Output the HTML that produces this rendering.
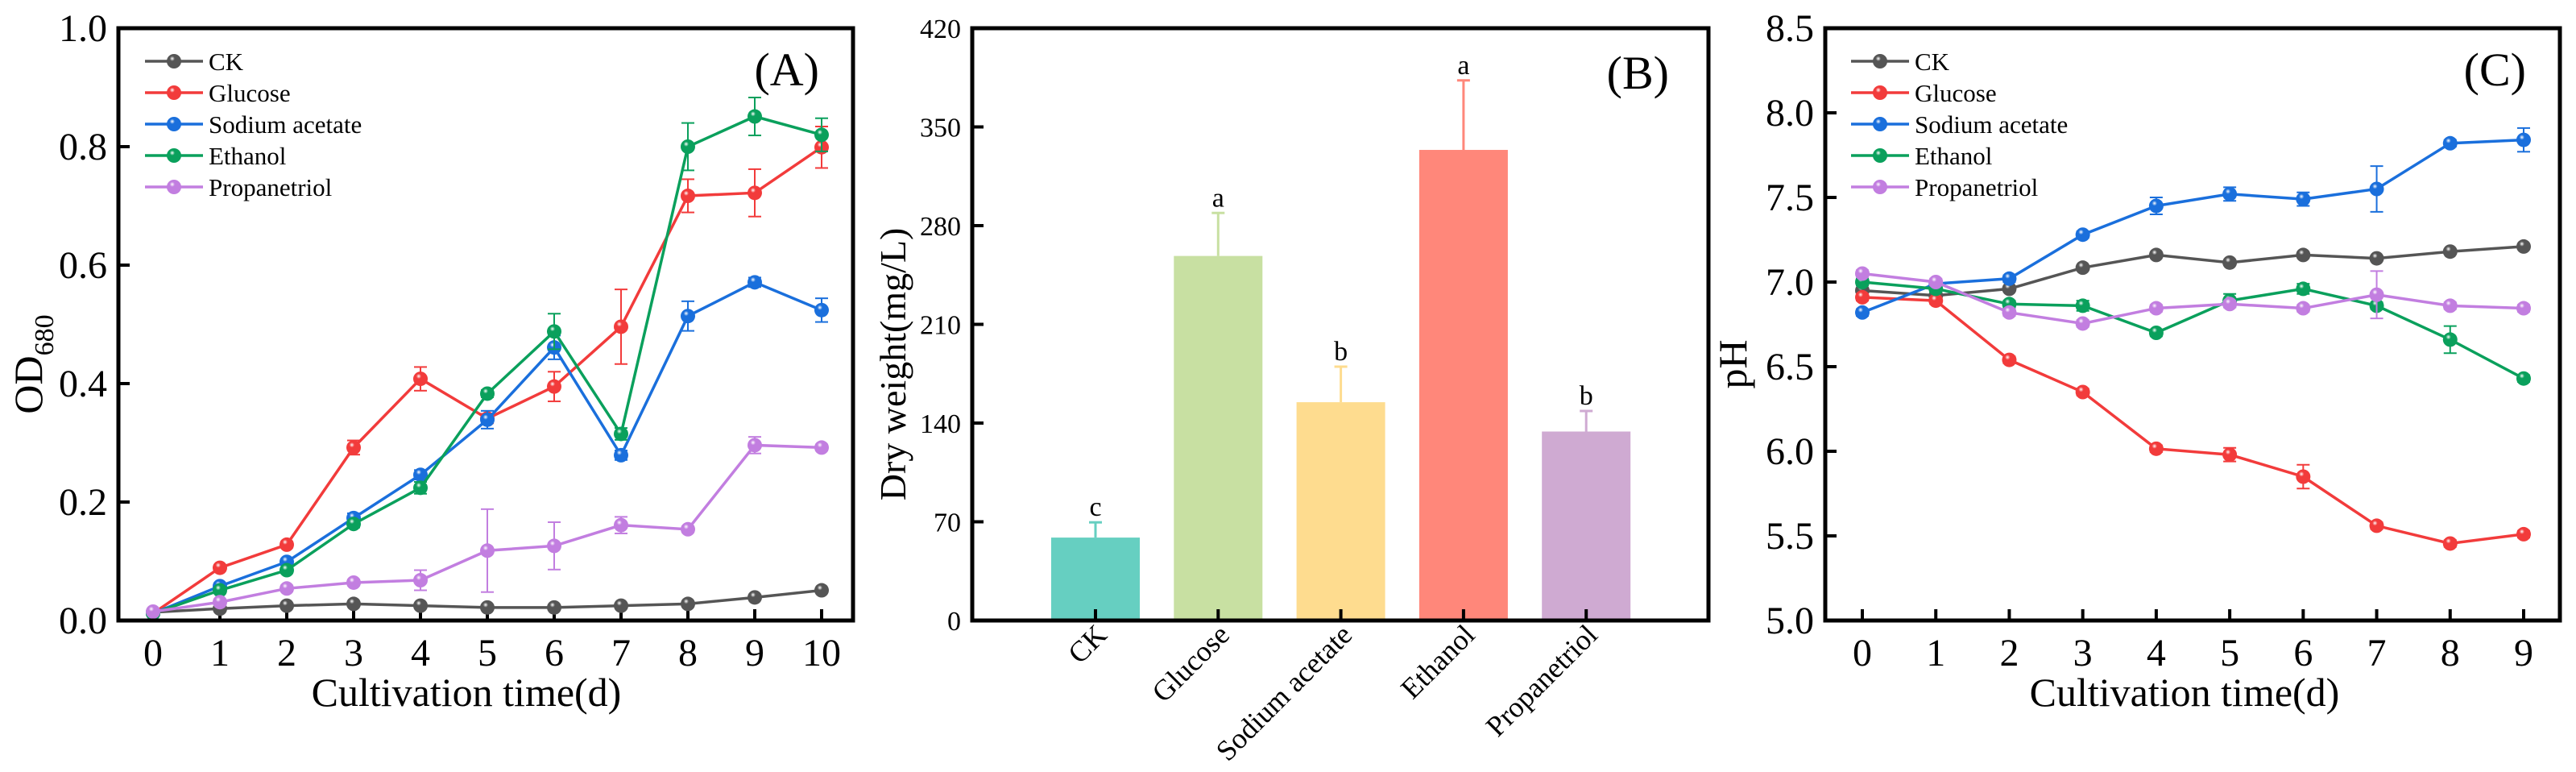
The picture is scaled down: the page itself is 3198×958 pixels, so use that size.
<!DOCTYPE html>
<html><head><meta charset="utf-8"><style>
html,body{margin:0;padding:0;background:#fff;}
svg{display:block;font-family:"Liberation Serif","Times New Roman",serif;}
</style></head><body>
<svg id="fig" width="3198" height="958" viewBox="0 0 3198 958" xmlns="http://www.w3.org/2000/svg"></svg>
<script>
// ---- Panel A data (OD680) ----
const daysA = [0,1,2,3,4,5,6,7,8,9,10];
const odCK    = [0.014,0.020,0.025,0.028,0.025,0.022,0.022,0.025,0.028,0.039,0.051];
const odGlu   = [0.012,0.089,0.128,0.292,0.408,0.341,0.395,0.496,0.717,0.722,0.799];
const odGluE  = [0,0.005,0.005,0.012,0.02,0.008,0.025,0.063,0.028,0.04,0.035];
const odSod   = [0.012,0.058,0.099,0.173,0.246,0.339,0.461,0.279,0.514,0.571,0.524];
const odSodE  = [0,0.005,0.005,0.008,0.008,0.015,0.02,0.008,0.025,0.008,0.02];
const odEth   = [0.012,0.051,0.085,0.163,0.224,0.383,0.488,0.315,0.800,0.851,0.820];
const odEthE  = [0,0.005,0.005,0.006,0.01,0.006,0.03,0.01,0.04,0.032,0.028];
const odPro   = [0.015,0.031,0.054,0.064,0.068,0.118,0.126,0.161,0.154,0.296,0.292];
const odProE  = [0,0.005,0.005,0.005,0.017,0.07,0.04,0.014,0.005,0.014,0.005];
const odTicks = ["0.0","0.2","0.4","0.6","0.8","1.0"];
// ---- Panel B data (dry weight) ----
const bCats = ["CK","Glucose","Sodium acetate","Ethanol","Propanetriol"];
const bVals = [58.8,258.5,154.8,333.7,134];
const bErr  = [10.8,30.5,25.2,49.3,14.6];
const bSig  = ["c","a","b","a","b"];
const bTicks = [0,70,140,210,280,350,420];
// ---- Panel C data (pH) ----
const daysC = [0,1,2,3,4,5,6,7,8,9];
const phCK  = [6.95,6.92,6.96,7.085,7.16,7.115,7.16,7.14,7.18,7.21];
const phGlu = [6.91,6.89,6.54,6.35,6.015,5.98,5.85,5.56,5.455,5.51];
const phGluE= [0.02,0.02,0.02,0.02,0.02,0.04,0.07,0.02,0.02,0.02];
const phSod = [6.82,6.99,7.02,7.28,7.45,7.52,7.49,7.55,7.82,7.84];
const phSodE= [0.02,0.02,0.02,0.02,0.05,0.04,0.04,0.135,0.02,0.07];
const phEth = [7.0,6.96,6.87,6.86,6.70,6.89,6.96,6.86,6.66,6.43];
const phEthE= [0.02,0.02,0.02,0.03,0.02,0.04,0.03,0.02,0.08,0.02];
const phPro = [7.05,7.0,6.82,6.755,6.845,6.87,6.845,6.925,6.86,6.845];
const phProE= [0.02,0.02,0.02,0.02,0.02,0.02,0.02,0.14,0.02,0.02];
const phTicks = ["5.0","5.5","6.0","6.5","7.0","7.5","8.0","8.5"];

const NS="http://www.w3.org/2000/svg";
const svg=document.getElementById('fig');
function el(tag,attrs,parent,txt){const e=document.createElementNS(NS,tag);for(const k in attrs)e.setAttribute(k,attrs[k]);if(txt!==undefined)e.textContent=txt;(parent||svg).appendChild(e);return e;}

const colors={CK:"#555555",Glucose:"#f23b3b",Sodium:"#1a6fdc",Ethanol:"#0aa05c",Pro:"#c27ee0"};
const defs=el('defs',{});
for(const k in colors){
  const g=el('radialGradient',{id:'g'+k,cx:'0.38',cy:'0.32',r:'0.7'},defs);
  el('stop',{offset:'0','stop-color':'#ffffff'},g);
  el('stop',{offset:'0.25','stop-color':colors[k]},g);
  el('stop',{offset:'1','stop-color':colors[k]},g);
}

function frame(g,x1,y1,x2,y2,name){
  const r=el('rect',{x:x1,y:y1,width:x2-x1,height:y2-y1,fill:'none',stroke:'#000','stroke-width':5},g);
  
  
}

function linePanel(P){
  const g=el('g',{});
  
  
  const sx=v=>P.x0+(v-P.xmin)/(P.xmax-P.xmin)*(P.x1-P.x0);
  const sy=v=>P.bot-(v-P.ymin)/(P.ymax-P.ymin)*(P.bot-P.top);
  P.days.forEach(d=>{
    const t=el('line',{x1:sx(d),x2:sx(d),y1:P.bot,y2:P.bot-14,stroke:'#000','stroke-width':4},g);
    
    
    const l=el('text',{x:sx(d),y:826,'font-size':48,'text-anchor':'middle'},g,String(d));
    
    
  });
  P.yticks.forEach(s=>{
    const v=parseFloat(s),y=sy(v);
    const t=el('line',{x1:P.fl,x2:P.fl+14,y1:y,y2:y,stroke:'#000','stroke-width':4},g);
    
    
    const l=el('text',{x:P.fl-14,y:y+16,'font-size':48,'text-anchor':'end'},g,s);
    
    
  });
  P.series.forEach(S=>{
    const sg=el('g',{},g);
    
    
    const c=colors[S.key];
    if(S.err){
      S.vals.forEach((v,i)=>{
        const e=S.err[i];if(!e)return;
        const x=sx(P.days[i]),ya=sy(v+e),yb=sy(v-e);
        el('line',{x1:x,x2:x,y1:ya,y2:yb,stroke:c,'stroke-width':2},sg);
        el('line',{x1:x-8,x2:x+8,y1:ya,y2:ya,stroke:c,'stroke-width':2},sg);
        el('line',{x1:x-8,x2:x+8,y1:yb,y2:yb,stroke:c,'stroke-width':2},sg);
      });
    }
    const pts=S.vals.map((v,i)=>sx(P.days[i])+','+sy(v)).join(' ');
    const pl=el('polyline',{points:pts,fill:'none',stroke:c,'stroke-width':3.5},sg);
    
    
    S.vals.forEach((v,i)=>{
      const m=el('circle',{cx:sx(P.days[i]),cy:sy(v),r:9,fill:'url(#g'+S.key+')'},sg);
      
      
    });
  });
  frame(g,P.fl,35,P.fr,P.bot,'plot-frame');
  const lg=el('g',{},g);
  
  
  P.series.forEach((S,i)=>{
    const y=76+i*39;
    const e=el('g',{},lg);
    
    
    el('line',{x1:P.lx,x2:P.lx+72,y1:y,y2:y,stroke:colors[S.key],'stroke-width':3.5},e);
    el('circle',{cx:P.lx+36,cy:y,r:9,fill:'url(#g'+S.key+')'},e);
    el('text',{x:P.lx+79,y:y+11,'font-size':31},e,S.label);
  });
  const pt=el('text',{x:P.fr-42,y:106,'font-size':58,'text-anchor':'end'},g,P.tag);
  
  
  const xt=el('text',{x:(P.fl+P.fr)/2+(P.xtOff||0),y:876,'font-size':50,'text-anchor':'middle'},g,'Cultivation time(d)');
  
  
  return g;
}

linePanel({name:'panel-a-od',tag:'(A)',days:daysA,xmin:0,xmax:10,x0:190,x1:1020,fl:147,fr:1059,top:35,bot:770,ymin:0,ymax:1,
  yticks:odTicks,lx:180,xtOff:-24,
  series:[{key:'CK',label:'CK',vals:odCK},{key:'Glucose',label:'Glucose',vals:odGlu,err:odGluE},
  {key:'Sodium',label:'Sodium acetate',vals:odSod,err:odSodE},{key:'Ethanol',label:'Ethanol',vals:odEth,err:odEthE},
  {key:'Pro',label:'Propanetriol',vals:odPro,err:odProE}]});
linePanel({name:'panel-c-ph',tag:'(C)',days:daysC,xmin:0,xmax:9,x0:2312,x1:3133,fl:2266,fr:3178,top:35,bot:770,ymin:5,ymax:8.5,
  yticks:phTicks,lx:2298,xtOff:-10,
  series:[{key:'CK',label:'CK',vals:phCK},{key:'Glucose',label:'Glucose',vals:phGlu,err:phGluE},
  {key:'Sodium',label:'Sodium acetate',vals:phSod,err:phSodE},{key:'Ethanol',label:'Ethanol',vals:phEth,err:phEthE},
  {key:'Pro',label:'Propanetriol',vals:phPro,err:phProE}]});

const yta=el('text',{transform:'translate(52,452) rotate(-90)','font-size':50,'text-anchor':'middle'});


el('tspan',{},yta,'OD');
el('tspan',{'font-size':34,dy:14},yta,'680');
const ytc=el('text',{transform:'translate(2168,452) rotate(-90)','font-size':50,'text-anchor':'middle'},svg,'pH');



(function(){
  const g=el('g',{});
  
  
  const fl=1207,fr=2121,top=35,bot=770,ymax=420;
  const sy=v=>bot-v/ymax*(bot-top);
  const sx=i=>1360+i*152.3;
  const bw=110;
  const barCols=["#66cfc1","#c8e0a2","#fedc8f","#ff877a","#cfaad2"];
  bTicks.forEach(v=>{
    const y=sy(v);
    const t=el('line',{x1:fl,x2:fl+14,y1:y,y2:y,stroke:'#000','stroke-width':4},g);
    
    
    const l=el('text',{x:fl-14,y:y+12,'font-size':34,'text-anchor':'end'},g,String(v));
    
    
  });
  bVals.forEach((v,i)=>{
    const x=sx(i),c=barCols[i];
    const b=el('rect',{x:x-bw/2,y:sy(v),width:bw,height:bot-sy(v),fill:c},g);
    
    
    const ye=sy(v+bErr[i]);
    el('line',{x1:x,x2:x,y1:sy(v),y2:ye,stroke:c,'stroke-width':3},g);
    el('line',{x1:x-8,x2:x+8,y1:ye,y2:ye,stroke:c,'stroke-width':3},g);
    const s=el('text',{x:x,y:ye-8,'font-size':34,'text-anchor':'middle'},g,bSig[i]);
    
    
    const t=el('line',{x1:x,x2:x,y1:bot,y2:bot-14,stroke:'#000','stroke-width':4},g);
    
    
    const l=el('text',{transform:'translate('+(x+16)+',790) rotate(-45)','font-size':36,'text-anchor':'end'},g,bCats[i]);
    
    
  });
  frame(g,fl,top,fr,bot,'plot-frame');
  const pt=el('text',{x:2072,y:110,'font-size':58,'text-anchor':'end'},g,'(B)');
  
  
  const yt=el('text',{transform:'translate(1124,452) rotate(-90)','font-size':46,'text-anchor':'middle'},g,'Dry weight(mg/L)');
  
  
})();
</script>
</body></html>
